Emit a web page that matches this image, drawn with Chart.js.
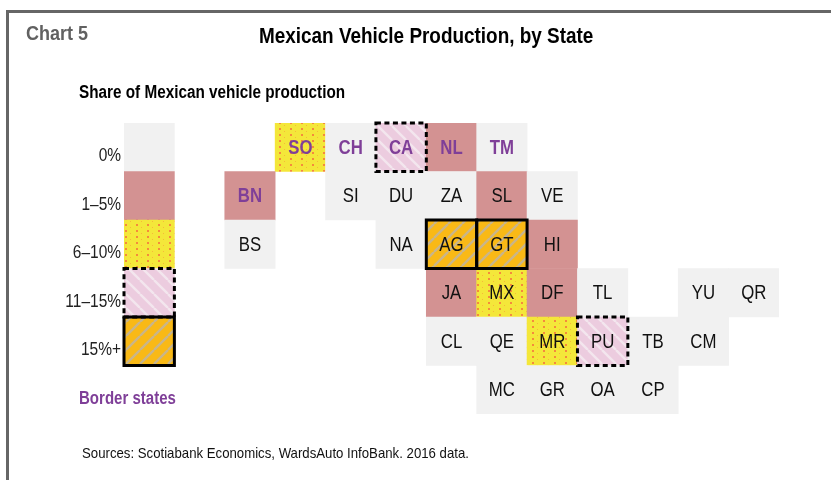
<!DOCTYPE html>
<html>
<head>
<meta charset="utf-8">
<script src="https://cdn.jsdelivr.net/npm/chart.js@4"></script>
<style>
html,body{margin:0;padding:0;background:#fff;width:831px;height:480px;overflow:hidden}
#wrap{position:relative;width:831px;height:480px;font-family:"Liberation Sans",Arial,sans-serif}
#frame{position:absolute;left:6px;top:10px;width:825px;height:470px;border-top:3px solid #666;border-left:3px solid #666;box-sizing:border-box}
canvas{position:absolute;left:0;top:0}
.t{position:absolute;white-space:nowrap;transform-origin:left top;font-weight:bold;line-height:1}
</style>
</head>
<body>
<div id="wrap">
<div id="frame"></div>
<canvas id="c" width="831" height="480"></canvas>
<div class="t" style="left:26px;top:23px;font-size:20px;color:#616161;transform:scaleX(.9)">Chart 5</div>
<div class="t" style="left:259px;top:25px;font-size:22px;color:#000;transform:scaleX(.86)">Mexican Vehicle Production, by State</div>
<div class="t" style="left:79px;top:83px;font-size:18px;color:#000;transform:scaleX(.85)">Share of Mexican vehicle production</div>
<div class="t" style="left:79px;top:389px;font-size:18px;color:#7f3f98;transform:scaleX(.835)">Border states</div>
<div class="t" style="left:82px;top:445px;font-size:15px;font-weight:normal;color:#111;transform:scaleX(.88)">Sources: Scotiabank Economics, WardsAuto InfoBank. 2016 data.</div>
</div>
<script>
// Tiers: 0 = 0%, 1 = 1–5%, 2 = 6–10%, 3 = 11–15%, 4 = 15%+
const rowLabels = ['0%', '1–5%', '6–10%', '11–15%', '15%+', ''];
const columns = ['0','1','2','3','4','5','6','7','8','9','10','11','12'];
const legendTiers = [0, 1, 2, 3, 4];
const stateCodes = ['SO','CH','CA','NL','TM','BN','SI','DU','ZA','SL','VE','BS','NA','AG','GT','HI','JA','MX','DF','TL','YU','QR','CL','QE','MR','PU','TB','CM','MC','GR','OA','CP'];
const stateCols  = [3,4,5,6,7,2,4,5,6,7,8,2,5,6,7,8,6,7,8,9,11,12,6,7,8,9,10,11,7,8,9,10];
const stateRows  = [0,0,0,0,0,1,1,1,1,1,1,2,2,2,2,2,3,3,3,3,3,3,4,4,4,4,4,4,5,5,5,5];
const stateTiers = [2,0,3,1,0,1,0,0,0,1,0,0,0,4,4,1,1,2,1,0,0,0,0,0,2,3,0,0,0,0,0,0];
const borderStates = ['SO','CH','CA','NL','TM','BN'];

function tile(w, h, draw) {
  const t = document.createElement('canvas');
  t.width = w; t.height = h;
  draw(t.getContext('2d'), w, h);
  return t;
}
function stripes(bg, fg, size, lw, forward) {
  return tile(size, size, (g, w, h) => {
    g.fillStyle = bg; g.fillRect(0, 0, w, h);
    g.strokeStyle = fg; g.lineWidth = lw;
    g.beginPath();
    for (let i = -1; i <= 1; i++) {
      if (forward) { g.moveTo(i * w, h); g.lineTo(i * w + w, 0); }
      else { g.moveTo(i * w, 0); g.lineTo(i * w + w, h); }
    }
    g.stroke();
  });
}
const ctx = document.getElementById('c').getContext('2d');
const dotsTile = tile(11, 12, (g) => {
  g.fillStyle = '#f4e73a'; g.fillRect(0, 0, 11, 12);
  g.fillStyle = '#f58a3c';
  g.fillRect(4, 2, 2, 2); g.fillRect(4, 8, 2, 2);
  g.fillStyle = '#f7b83a';
  g.fillRect(9, 5, 1, 1); g.fillRect(9, 11, 1, 1);
});
const tierFills = [
  '#f1f1f1',
  '#d39292',
  ctx.createPattern(dotsTile, 'repeat'),
  ctx.createPattern(stripes('#ecccdf', '#f3e6ee', 14, 2.4, false), 'repeat'),
  ctx.createPattern(stripes('#f9b916', '#c9b58a', 14, 2.4, true), 'repeat')
];

function narrowText(g, text, x, y, scaleX) {
  g.save();
  g.translate(x, y);
  g.scale(scaleX, 1);
  g.fillText(text, 0, 0);
  g.restore();
}

const outlinePlugin = {
  id: 'outlines',
  afterDatasetsDraw(chart) {
    const g = chart.ctx;
    const cells = [];
    chart.data.datasets.forEach((ds, di) => {
      chart.getDatasetMeta(di).data.forEach((el, i) => {
        const p = el.getProps(['x', 'y', 'base', 'height'], true);
        cells.push({ tier: ds.tiers[i], code: ds.codes[i], x0: p.base, x1: p.x, y0: p.y - p.height / 2, y1: p.y + p.height / 2 });
      });
    });
    g.save();
    g.strokeStyle = '#000';
    g.lineWidth = 3;
    cells.filter(c => c.tier === 3).forEach(c => {
      g.setLineDash([5, 3.5]);
      g.strokeRect(c.x0, c.y0, c.x1 - c.x0, c.y1 - c.y0);
    });
    g.setLineDash([]);
    cells.filter(c => c.tier === 4).forEach(c => {
      g.strokeRect(c.x0, c.y0, c.x1 - c.x0, c.y1 - c.y0);
    });
    g.textAlign = 'center';
    g.textBaseline = 'middle';
    cells.filter(c => c.code).forEach(c => {
      const isBorder = borderStates.includes(c.code);
      g.fillStyle = isBorder ? '#7f3f98' : '#111';
      g.font = (isBorder ? 'bold ' : '') + '20px "Liberation Sans"';
      narrowText(g, c.code, (c.x0 + c.x1) / 2, (c.y0 + c.y1) / 2 + 1, 0.84);
    });
    // row labels
    const yScale = chart.scales.y;
    g.textAlign = 'right';
    g.fillStyle = '#222';
    g.font = '18px "Liberation Sans"';
    yScale.ticks.forEach((tick, i) => {
      const label = yScale.getLabelForValue(tick.value);
      if (label) narrowText(g, label, 121, yScale.getPixelForTick(i) + 9, 0.86);
    });
    g.restore();
  }
};

new Chart(ctx, {
  type: 'bar',
  data: {
    labels: rowLabels,
    datasets: [
      {
        label: 'Legend',
        codes: legendTiers.map(() => ''),
        tiers: legendTiers,
        data: legendTiers.map((t, i) => ({ y: rowLabels[i], x: [0, 1] })),
        backgroundColor: legendTiers.map(t => tierFills[t]),
        grouped: false, barPercentage: 1, categoryPercentage: 1, borderWidth: 0
      },
      {
        label: 'States',
        codes: stateCodes,
        tiers: stateTiers,
        data: stateCodes.map((c, i) => ({ y: rowLabels[stateRows[i]], x: [stateCols[i], stateCols[i] + 1] })),
        backgroundColor: stateTiers.map(t => tierFills[t]),
        grouped: false, barPercentage: 1, categoryPercentage: 1, borderWidth: 0
      }
    ]
  },
  options: {
    indexAxis: 'y',
    responsive: false,
    animation: false,
    events: [],
    layout: { padding: { top: 123, bottom: 66, left: 0, right: 52 } },
    plugins: { legend: { display: false }, title: { display: false }, tooltip: { enabled: false } },
    scales: {
      x: { type: 'linear', min: 0, max: columns.length, display: false },
      y: {
        type: 'category',
        labels: rowLabels,
        offset: true,
        grid: { display: false, drawTicks: false },
        border: { display: false },
        afterFit(scale) { scale.width = 124; },
        ticks: { display: false, autoSkip: false }
      }
    }
  },
  plugins: [outlinePlugin]
});
</script>
</body>
</html>
